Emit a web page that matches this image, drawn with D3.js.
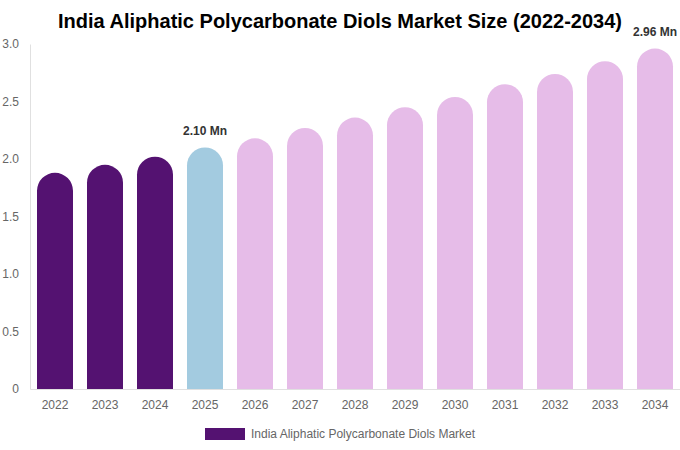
<!DOCTYPE html>
<html>
<head>
<meta charset="utf-8">
<script src="https://cdn.jsdelivr.net/npm/d3@7"></script>
<style>
  body { margin: 0; background: #fff; font-family: "Liberation Sans", Arial, sans-serif; }
</style>
</head>
<body>
<svg width="680" height="450"></svg>
<script>
const years = ["2022", "2023", "2024", "2025", "2026", "2027", "2028", "2029", "2030", "2031", "2032", "2033", "2034"];
const values = [1.88, 1.95, 2.02, 2.10, 2.18, 2.27, 2.36, 2.45, 2.54, 2.65, 2.74, 2.85, 2.96];
const yTicks = [0, 0.5, 1.0, 1.5, 2.0, 2.5, 3.0];
const labelled = { "2025": "2.10 Mn", "2034": "2.96 Mn" };

// colours by period: history, base year, forecast
function barColor(y) {
    if (+y < 2025) return "#541271";
    if (+y === 2025) return "#a3cbe0";
    return "#e6bce8";
}

const margin = { top: 44, right: 0, bottom: 61, left: 30 };
const width = 680 - margin.left - margin.right;
const height = 450 - margin.top - margin.bottom;

const svg = d3.select("svg");

svg.append("text")
    .attr("x", 340)
    .attr("y", 28)
    .attr("text-anchor", "middle")
    .style("font-size", "20px")
    .style("font-weight", "bold")
    .style("fill", "#000")
    .text("India Aliphatic Polycarbonate Diols Market Size (2022-2034)");

const g = svg.append("g")
    .attr("transform", "translate(" + margin.left + "," + margin.top + ")");

const xScale = d3.scaleBand()
    .domain(years)
    .range([0, width])
    .paddingInner(0.28)
    .paddingOuter(0.14);

const yScale = d3.scaleLinear()
    .domain([0, 3])
    .range([height, 0]);

// y axis: only the line and labels
const yAxis = g.append("g")
    .call(d3.axisLeft(yScale).tickValues(yTicks).tickSize(0).tickPadding(11)
        .tickFormat(d => d === 0 ? "0" : d3.format(".1f")(d)));
yAxis.select(".domain").attr("stroke", "#e0e0e0");
yAxis.selectAll("text").style("font-size", "12px").style("fill", "#666").style("font-family", "Liberation Sans, Arial, sans-serif");

// x axis
const xAxis = g.append("g")
    .attr("transform", "translate(0," + height + ")")
    .call(d3.axisBottom(xScale).tickSize(0).tickPadding(11));
xAxis.select(".domain").attr("stroke", "#e0e0e0");
xAxis.selectAll("text").style("font-size", "12px").style("fill", "#666").style("font-family", "Liberation Sans, Arial, sans-serif");

// bars with rounded tops
const bw = xScale.bandwidth();
const r = bw / 2;
function barPath(d, i) {
    const x0 = xScale(years[i]);
    const y0 = yScale(d);
    const yb = yScale(0);
    return "M" + x0 + "," + yb +
        "V" + (y0 + r) +
        "A" + r + "," + r + " 0 0 1 " + (x0 + bw) + "," + (y0 + r) +
        "V" + yb + "Z";
}

g.selectAll("path.bar")
    .data(values)
    .enter()
    .append("path")
    .attr("class", "bar")
    .attr("d", barPath)
    .attr("fill", (d, i) => barColor(years[i]));

// value labels
g.selectAll("text.val")
    .data(years.filter(y => labelled[y]))
    .enter()
    .append("text")
    .attr("class", "val")
    .attr("x", y => xScale(y) + bw / 2)
    .attr("y", y => yScale(values[years.indexOf(y)]) - 13)
    .attr("text-anchor", "middle")
    .style("font-size", "12px")
    .style("font-weight", "bold")
    .style("fill", "#333")
    .text(y => labelled[y]);

// legend
const legend = svg.append("g").attr("transform", "translate(205,428)");
legend.append("rect")
    .attr("width", 40)
    .attr("height", 12)
    .attr("fill", "#541271");
legend.append("text")
    .attr("x", 46)
    .attr("y", 10)
    .style("font-size", "12px")
    .style("fill", "#666")
    .text("India Aliphatic Polycarbonate Diols Market");
</script>
</body>
</html>
